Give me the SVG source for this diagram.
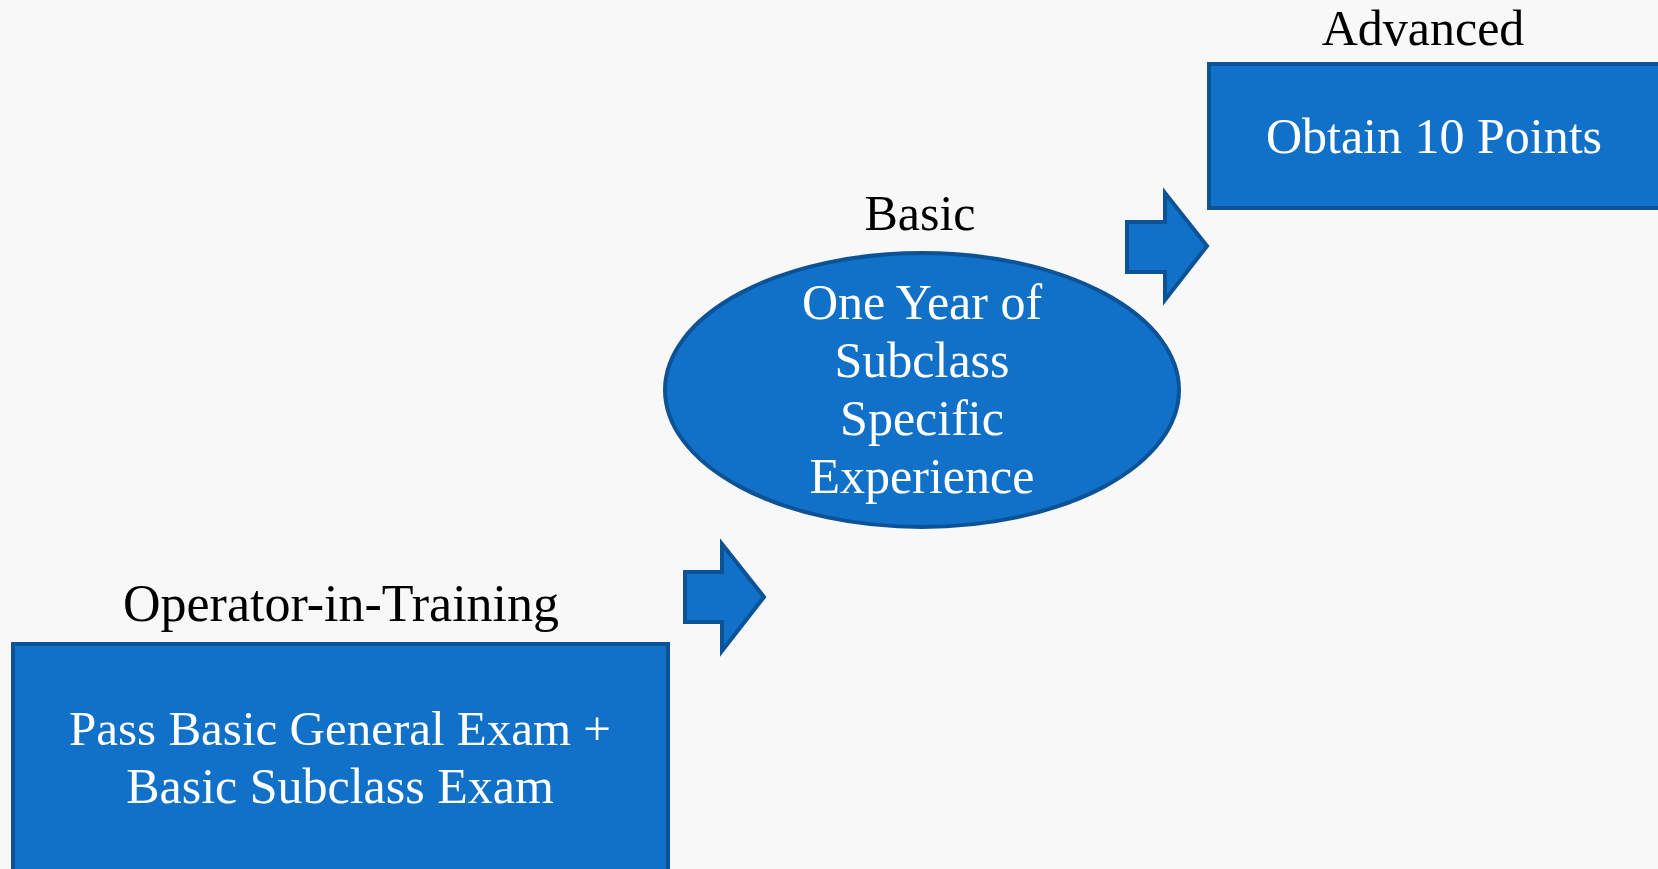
<svg xmlns="http://www.w3.org/2000/svg" width="1658" height="869" viewBox="0 0 1658 869">
  <style>
    .shape { fill: #1170C8; stroke: #0C5296; stroke-width: 4; }
    .label { font-family: "Liberation Serif", "DejaVu Serif", serif; font-size: 50px; fill: #000000; text-anchor: middle; }
    .inner { font-family: "Liberation Serif", "DejaVu Serif", serif; font-size: 50px; fill: #FFFFFF; text-anchor: middle; }
  </style>
  <rect x="0" y="0" width="1658" height="869" fill="#F8F8F8"/>

  <g id="node-oit">
    <text class="label" x="341" y="621" style="font-size:52px">Operator-in-Training</text>
    <rect class="shape" x="13" y="644" width="655" height="240"/>
    <text class="inner" x="340" y="745" style="font-size:49px">Pass Basic General Exam +</text>
    <text class="inner" x="340" y="803">Basic Subclass Exam</text>
  </g>

  <g id="node-basic">
    <text class="label" x="920" y="230">Basic</text>
    <ellipse class="shape" cx="922" cy="390" rx="257" ry="137"/>
    <text class="inner" x="922" y="319">One Year of</text>
    <text class="inner" x="922" y="377">Subclass</text>
    <text class="inner" x="922" y="435">Specific</text>
    <text class="inner" x="922" y="493">Experience</text>
  </g>

  <g id="node-advanced">
    <text class="label" x="1423" y="45">Advanced</text>
    <rect class="shape" x="1209" y="64" width="460" height="144"/>
    <text class="inner" x="1434" y="153">Obtain 10 Points</text>
  </g>

  <g id="connectors">
    <polygon class="shape" points="685,572 722,572 722,544 764,597 722,651 722,622 685,622"/>
    <polygon class="shape" points="1127,222 1165,222 1165,193 1207,246 1165,300 1165,272 1127,272"/>
  </g>
</svg>
